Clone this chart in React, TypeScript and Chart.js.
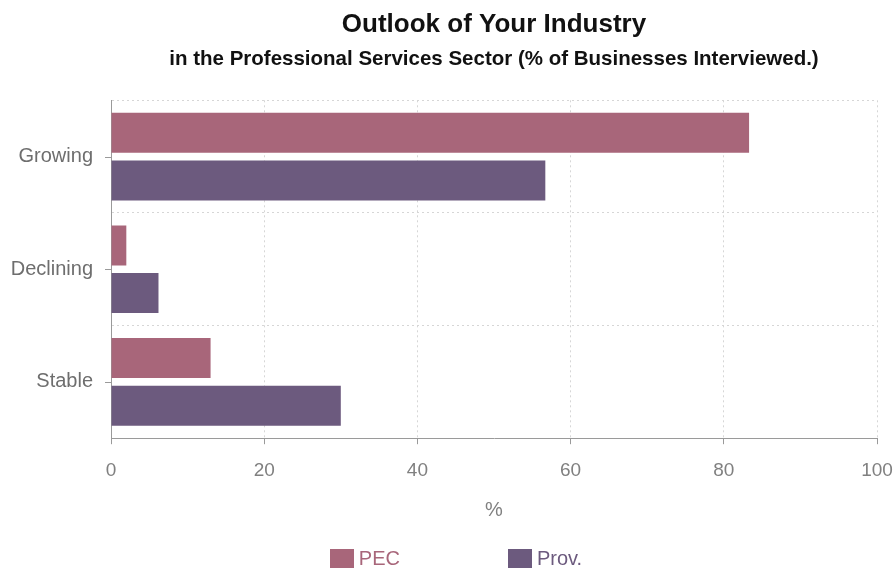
import React, { useEffect, useRef } from "react";
import { Chart, registerables } from "chart.js";

Chart.register(...registerables);

const categories = ["Growing", "Declining", "Stable"];
const pecValues = [83.3, 2.0, 13.0];
const provValues = [56.7, 6.2, 30.0];
const seriesLabels = ["PEC", "Prov."];
const seriesColors = ["#a8667a", "#6c5a7e"];
const xTickValues = [0, 20, 40, 60, 80, 100];
const titleText = "Outlook of Your Industry";
const subtitleText = "in the Professional Services Sector (% of Businesses Interviewed.)";
const xAxisTitle = "%";

const FONT = "'Liberation Sans', Arial, Helvetica, sans-serif";

const yTickMarks = {
  id: "yTickMarks",
  afterDraw(chart: any) {
    const s = chart.scales.y;
    const ctx = chart.ctx;
    const left = chart.chartArea.left;
    ctx.save();
    ctx.strokeStyle = "#9a9a9a";
    ctx.lineWidth = 1;
    s.ticks.forEach((_: any, i: number) => {
      const y = Math.round(s.getPixelForTick(i)) + 0.5;
      ctx.beginPath();
      ctx.moveTo(left - 6, y);
      ctx.lineTo(left, y);
      ctx.stroke();
    });
    ctx.restore();
  },
};

export default function App() {
  const canvasRef = useRef<HTMLCanvasElement | null>(null);

  useEffect(() => {
    if (!canvasRef.current) return;
    const chart = new Chart(canvasRef.current, {
      type: "bar",
      data: {
        labels: categories,
        datasets: [
          {
            label: seriesLabels[0],
            data: pecValues,
            backgroundColor: seriesColors[0],
            borderWidth: 0,
            categoryPercentage: 0.845,
            barPercentage: 0.84,
          },
          {
            label: seriesLabels[1],
            data: provValues,
            backgroundColor: seriesColors[1],
            borderWidth: 0,
            categoryPercentage: 0.845,
            barPercentage: 0.84,
          },
        ],
      },
      options: {
        indexAxis: "y",
        animation: false,
        responsive: true,
        maintainAspectRatio: false,
        layout: { padding: { left: 11, right: 0, top: 0, bottom: 51 } },
        plugins: {
          legend: { display: false },
          tooltip: { enabled: false },
          title: {
            display: true,
            text: titleText,
            fullSize: false,
            color: "#111",
            font: { family: FONT, size: 26, weight: "bold" },
            padding: { top: 9, bottom: 0 },
          },
          subtitle: {
            display: true,
            text: subtitleText,
            fullSize: false,
            color: "#111",
            font: { family: FONT, size: 20.5, weight: "bold" },
            padding: { top: 6.5, bottom: 29 },
          },
        },
        scales: {
          x: {
            type: "linear",
            min: 0,
            max: 100,
            afterBuildTicks: (scale: any) => {
              scale.ticks = xTickValues.map((v) => ({ value: v }));
            },
            afterFit: (scale: any) => {
              scale.paddingRight = 19;
              scale.paddingLeft = 0;
            },
            ticks: {
              color: "#808080",
              font: { family: FONT, size: 19 },
              padding: 15,
            },
            grid: {
              color: "#d6d6d6",
              drawTicks: true,
              tickLength: 6,
              tickColor: "#9a9a9a",
              tickBorderDash: [],
            },
            border: { display: true, color: "#9a9a9a", width: 1, dash: [2, 3] },
            title: {
              display: true,
              text: xAxisTitle,
              color: "#808080",
              font: { family: FONT, size: 20 },
              padding: { top: 1, bottom: 0 },
            },
          },
          y: {
            type: "category",
            offset: true,
            afterFit: (scale: any) => {
              scale.width = 100;
            },
            ticks: {
              color: "#6e6e6e",
              font: { family: FONT, size: 20 },
              padding: 18,
            },
            grid: {
              offset: true,
              color: "#d6d6d6",
              drawTicks: false,
            },
            border: { display: true, color: "#9a9a9a", width: 1, dash: [2, 3] },
          },
        },
      },
      plugins: [yTickMarks],
    } as any);
    return () => chart.destroy();
  }, []);

  return (
    <div style={{ position: "fixed", left: 0, top: 0, width: 896, height: 573, background: "#fff" }}>
      <canvas ref={canvasRef} />
      <div
        style={{
          position: "absolute",
          left: 0,
          top: 548,
          width: 912,
          display: "flex",
          justifyContent: "center",
          gap: 108,
          fontFamily: FONT,
          fontSize: 20,
          lineHeight: "20px",
        }}
      >
        {seriesLabels.map((lab, i) => (
          <div key={lab} style={{ display: "flex", alignItems: "center" }}>
            <span
              style={{
                display: "inline-block",
                width: 24,
                height: 19,
                background: seriesColors[i],
                marginRight: 5,
              }}
            />
            <span style={{ color: seriesColors[i] }}>{lab}</span>
          </div>
        ))}
      </div>
    </div>
  );
}
